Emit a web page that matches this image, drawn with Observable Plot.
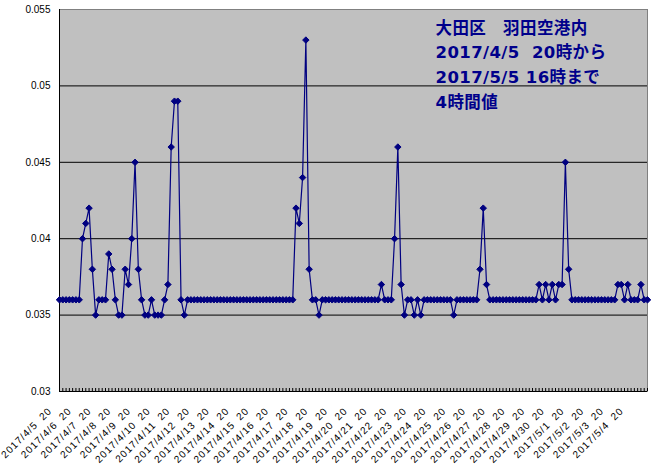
<!DOCTYPE html>
<html><head><meta charset="utf-8">
<script src="https://cdn.jsdelivr.net/npm/d3@7"></script>
<script src="https://cdn.jsdelivr.net/npm/@observablehq/plot@0.6"></script>
<style>
body{margin:0;background:#fff;}
#chart svg{display:block;}
svg text{white-space:pre;}
</style></head><body><div id="chart"></div>
<script>
// 4-hour values, 2017/4/5 20:00 .. 2017/5/5 16:00 (180 points)
const values = [
  0.036,0.036,0.036,0.036,0.036,0.036,0.036,0.040,0.041,0.042,
  0.038,0.035,0.036,0.036,0.036,0.039,0.038,0.036,0.035,0.035,
  0.038,0.037,0.040,0.045,0.038,0.036,0.035,0.035,0.036,0.035,
  0.035,0.035,0.036,0.037,0.046,0.049,0.049,0.036,0.035,0.036,
  0.036,0.036,0.036,0.036,0.036,0.036,0.036,0.036,0.036,0.036,
  0.036,0.036,0.036,0.036,0.036,0.036,0.036,0.036,0.036,0.036,
  0.036,0.036,0.036,0.036,0.036,0.036,0.036,0.036,0.036,0.036,
  0.036,0.036,0.042,0.041,0.044,0.053,0.038,0.036,0.036,0.035,
  0.036,0.036,0.036,0.036,0.036,0.036,0.036,0.036,0.036,0.036,
  0.036,0.036,0.036,0.036,0.036,0.036,0.036,0.036,0.037,0.036,
  0.036,0.036,0.040,0.046,0.037,0.035,0.036,0.036,0.035,0.036,
  0.035,0.036,0.036,0.036,0.036,0.036,0.036,0.036,0.036,0.036,
  0.035,0.036,0.036,0.036,0.036,0.036,0.036,0.036,0.038,0.042,
  0.037,0.036,0.036,0.036,0.036,0.036,0.036,0.036,0.036,0.036,
  0.036,0.036,0.036,0.036,0.036,0.036,0.037,0.036,0.037,0.036,
  0.037,0.036,0.037,0.037,0.045,0.038,0.036,0.036,0.036,0.036,
  0.036,0.036,0.036,0.036,0.036,0.036,0.036,0.036,0.036,0.036,
  0.037,0.037,0.036,0.037,0.036,0.036,0.036,0.037,0.036,0.036
];
const tickLabels = [
  "2017/4/5 20","2017/4/6 20","2017/4/7 20","2017/4/8 20","2017/4/9 20",
  "2017/4/10 20","2017/4/11 20","2017/4/12 20","2017/4/13 20","2017/4/14 20",
  "2017/4/15 20","2017/4/16 20","2017/4/17 20","2017/4/18 20","2017/4/19 20",
  "2017/4/20 20","2017/4/21 20","2017/4/22 20","2017/4/23 20","2017/4/24 20",
  "2017/4/25 20","2017/4/26 20","2017/4/27 20","2017/4/28 20","2017/4/29 20",
  "2017/4/30 20","2017/5/1 20","2017/5/2 20","2017/5/3 20","2017/5/4 20"
];
const pointsPerDay = 6;
const yTicks = [0.03, 0.035, 0.04, 0.045, 0.05, 0.055];
const yTickLabels = ["0.03", "0.035", "0.04", "0.045", "0.05", "0.055"];
const titleLines = ["大田区　羽田空港内", "2017/4/5  20時から", "2017/5/5 16時まで", "4時間値"];

const data = values.map((v, i) => ({i, v}));
const ticks = tickLabels.map((label, k) => ({i: k * pointsPerDay, label}));
const navy = "#000080";
const titleColor = "#00008b";

const chart = Plot.plot({
  width: 651, height: 468,
  marginLeft: 59, marginRight: 4, marginTop: 9, marginBottom: 77,
  style: {fontFamily: "'Liberation Sans', Arial, sans-serif", fontSize: "10px", background: "#fff", color: "#000", overflow: "visible"},
  x: {domain: [0, values.length - 1], axis: null},
  y: {domain: [yTicks[0], yTicks[yTicks.length - 1]], axis: null},
  marks: [
    Plot.frame({fill: "#c0c0c0", stroke: "#808080"}),
    Plot.ruleY(yTicks.slice(1, -1), {stroke: "#000"}),
    Plot.tickX(data, {x: "i", stroke: "#000", insetTop: 379}),
    Plot.ruleX([0], {stroke: "#000"}),
    Plot.ruleY([yTicks[0]], {stroke: "#000"}),
    Plot.line(data, {x: "i", y: "v", stroke: navy, strokeWidth: 1.2}),
    Plot.dot(data, {x: "i", y: "v", symbol: "diamond2", r: 2.9, fill: navy, stroke: navy, strokeWidth: 1}),
    Plot.axisY(yTicks, {tickSize: 0, tickPadding: 9, label: null, tickFormat: d => yTickLabels[yTicks.indexOf(d)], fontSize: 10, fill: "#000"}),
    Plot.text(ticks, {x: "i", text: "label", frameAnchor: "bottom", rotate: -45, textAnchor: "end", lineAnchor: "bottom", dx: -7, dy: 20, fontSize: 10, fill: "#000"}),
    ...titleLines.map((t, k) => Plot.text([t], {
      frameAnchor: "top-left", textAnchor: "start", lineAnchor: "bottom",
      dx: 376, dy: 24 + k * 24.67, fill: titleColor, fontWeight: "bold", fontSize: 16.5,
      fontFamily: "'DejaVu Sans','Noto Sans CJK JP',sans-serif"
    }))
  ]
});
document.getElementById("chart").appendChild(chart);
const textGroups = chart.querySelectorAll('g[aria-label="text"]');
if (textGroups[0]) d3.select(textGroups[0]).selectAll("text").style("letter-spacing", "1px").style("word-spacing", "3px");
for (let k = 1; k < textGroups.length; k++) d3.select(textGroups[k]).selectAll("text").style("letter-spacing", "0.4px");
</script></body></html>
